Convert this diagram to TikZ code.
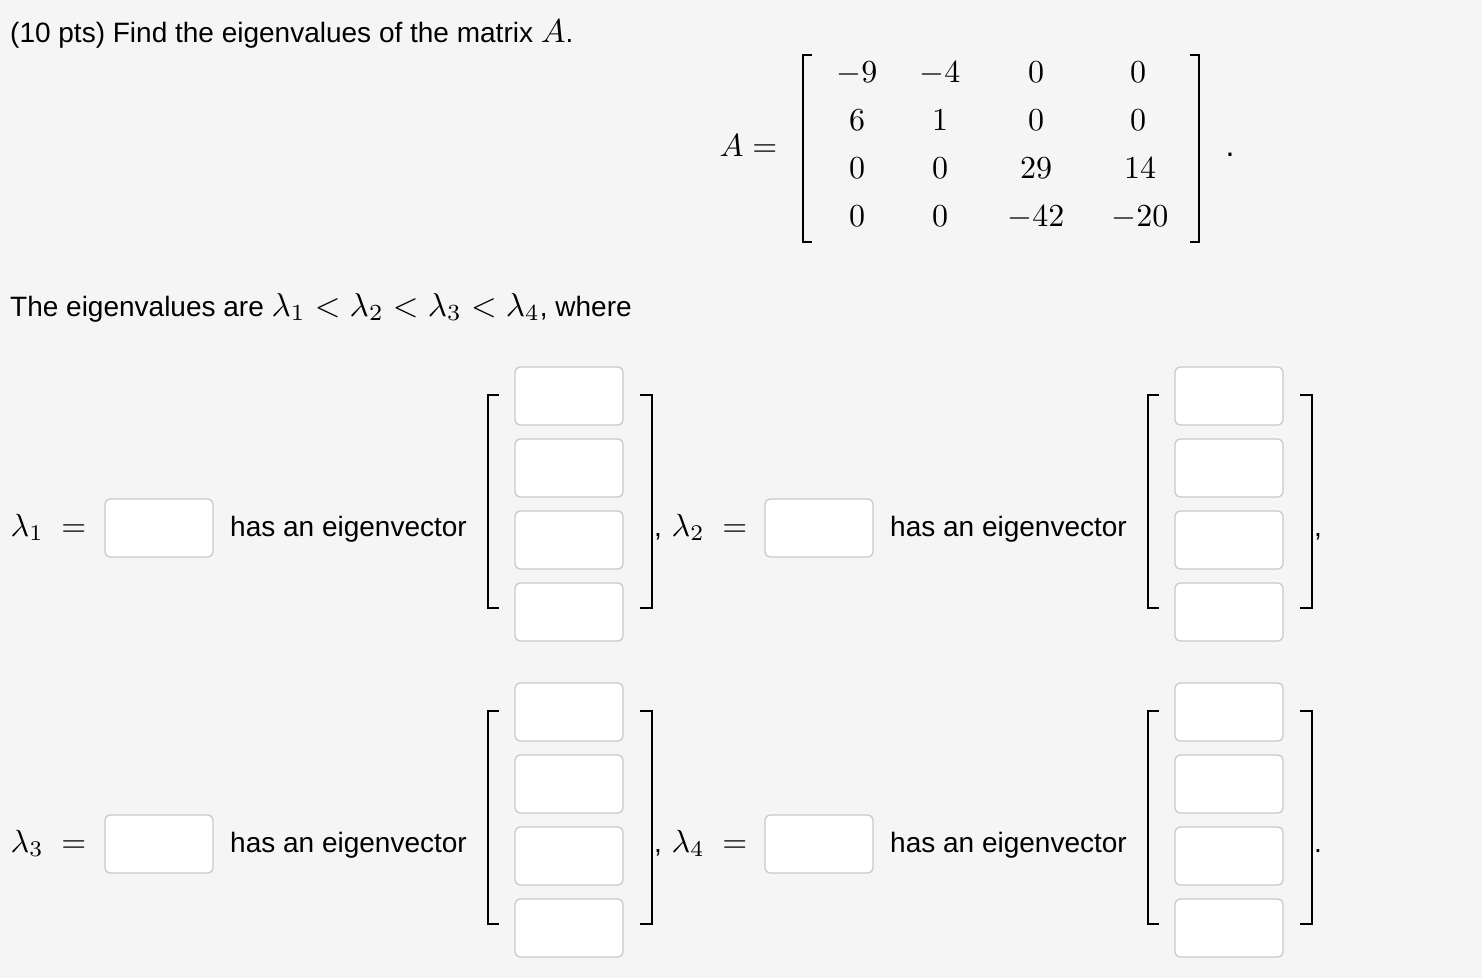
\documentclass[tikz,border=0pt]{standalone}
\usepackage{amsmath}
\usepackage{fontspec}
\setmainfont{Liberation Sans}
\newcommand{\mybigmath}[1]{\scalebox{3.3}{\fontsize{10}{12}\selectfont$#1$}}
\begin{document}
\begin{tikzpicture}[x=1pt,y=-1pt,
  box/.style={draw=black!22,fill=white,rounded corners=5pt,line width=1.2pt,minimum width=108pt,minimum height=58pt,inner sep=0pt},
  txt/.style={anchor=base west,inner sep=0pt,font=\fontsize{28}{32}\selectfont},
  mth/.style={anchor=base,inner sep=0pt,font=\fontsize{10}{12}\selectfont,scale=3.2,transform shape},
  brk/.style={line width=2.2pt}]
\fill[black!4] (0,0) rectangle (1482,978);
\useasboundingbox (0,0) rectangle (1482,978);
\node[txt] (title) at (10,42) {(10 pts) Find the eigenvalues of the matrix \mybigmath{A}.};
% matrix
\node[mth,anchor=base east] (Aeq) at (778,156) {$A=$};
\draw[brk] (812,55) -- (803,55) -- (803,242) -- (812,242);
\draw[brk] (1190,55) -- (1199,55) -- (1199,242) -- (1190,242);
\node[mth] (m11) at (857,82) {$-9$};
\node[mth] (m12) at (940,82) {$-4$};
\node[mth] (m13) at (1036,82) {$0$};
\node[mth] (m14) at (1138,82) {$0$};
\node[mth] (m21) at (857,130) {$6$};
\node[mth] (m22) at (940,130) {$1$};
\node[mth] (m23) at (1036,130) {$0$};
\node[mth] (m24) at (1138,130) {$0$};
\node[mth] (m31) at (857,178) {$0$};
\node[mth] (m32) at (940,178) {$0$};
\node[mth] (m33) at (1036,178) {$29$};
\node[mth] (m34) at (1140,178) {$14$};
\node[mth] (m41) at (857,226) {$0$};
\node[mth] (m42) at (940,226) {$0$};
\node[mth] (m43) at (1036,226) {$-42$};
\node[mth] (m44) at (1140,226) {$-20$};
\node[mth] (dot) at (1230,156) {.};
\node[txt] (ev) at (10,316) {The eigenvalues are \mybigmath{\lambda_1<\lambda_2<\lambda_3<\lambda_4}, where};
% rows
\foreach \dy/\la/\lb/\endc in {0/1/2/{,},316/3/4/{.}}{
  \node[mth,anchor=base west] (l\la) at (10,536+\dy) {$\lambda_{\la}\;=$};
  \node[box] (b\la) at (159,528+\dy) {};
  \node[txt] (h\la) at (230,536+\dy) {has an eigenvector};
  \draw[brk] (499,395+\dy) -- (488,395+\dy) -- (488,608+\dy) -- (499,608+\dy);
  \foreach \j in {0,1,2,3}{\node[box] (v\la\j) at (569,396+\dy+72*\j) {};}
  \draw[brk] (640,395+\dy) -- (652,395+\dy) -- (652,608+\dy) -- (640,608+\dy);
  \node[txt] (c\la) at (654,536+\dy) {,};
  \node[mth,anchor=base west] (l\lb) at (671,536+\dy) {$\lambda_{\lb}\;=$};
  \node[box] (b\lb) at (819,528+\dy) {};
  \node[txt] (h\lb) at (890,536+\dy) {has an eigenvector};
  \draw[brk] (1159,395+\dy) -- (1148,395+\dy) -- (1148,608+\dy) -- (1159,608+\dy);
  \foreach \j in {0,1,2,3}{\node[box] (v\lb\j) at (1229,396+\dy+72*\j) {};}
  \draw[brk] (1300,395+\dy) -- (1312,395+\dy) -- (1312,608+\dy) -- (1300,608+\dy);
  \node[txt] (e\lb) at (1314,536+\dy) {\endc};
}
\end{tikzpicture}
\end{document}
